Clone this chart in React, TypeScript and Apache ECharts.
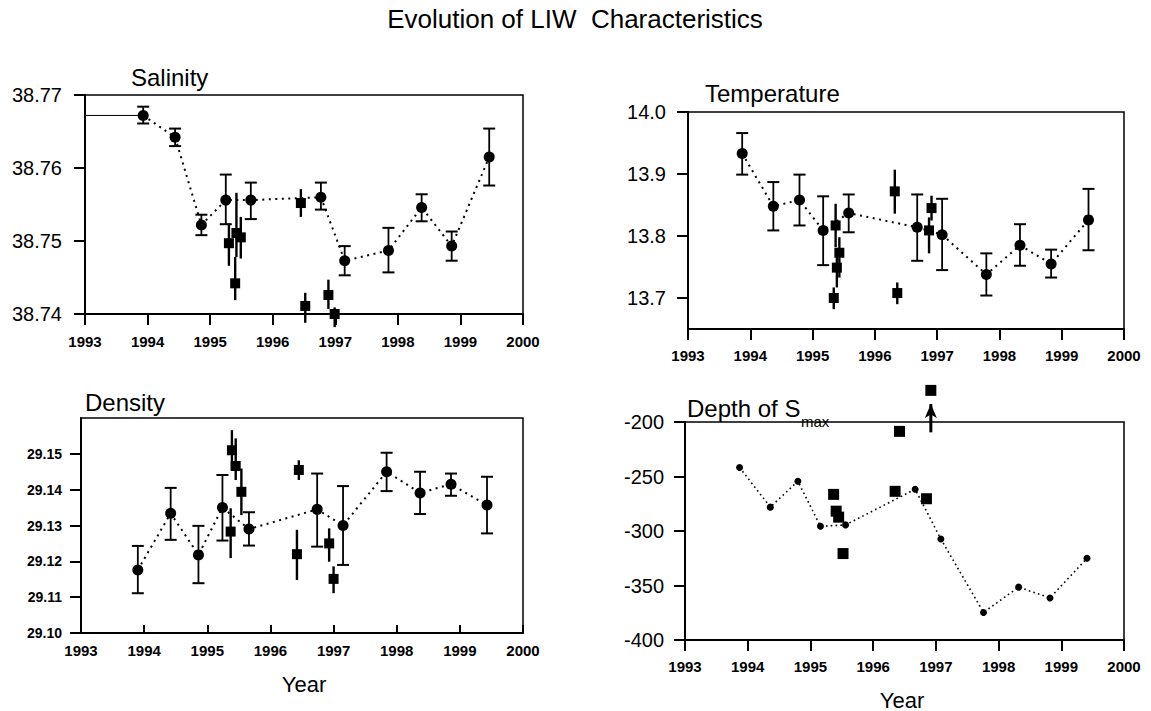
import React, { useEffect, useRef } from 'react';
import * as echarts from 'echarts';

const FONT = '"Liberation Sans", Arial, Helvetica, sans-serif';

// ---------- shared axis ticks ----------
const yearTicks = [1993, 1994, 1995, 1996, 1997, 1998, 1999, 2000];

// ---------- Salinity ----------
const salTicks = [38.74, 38.75, 38.76, 38.77];
const salCircleYears = [1993.93, 1994.44, 1994.86, 1995.25, 1995.65, 1996.77, 1997.15, 1997.85, 1998.38, 1998.86, 1999.46];
const salCircleValues = [38.7672, 38.7642, 38.7522, 38.7556, 38.7556, 38.756, 38.7473, 38.7487, 38.7546, 38.7493, 38.7615];
const salCircleLow = [38.7661, 38.763, 38.7508, 38.7523, 38.753, 38.7543, 38.7453, 38.7457, 38.7527, 38.7473, 38.7576];
const salCircleHigh = [38.7684, 38.7654, 38.7536, 38.7591, 38.758, 38.758, 38.7493, 38.7518, 38.7564, 38.7513, 38.7654];
const salSquareYears = [1995.3, 1995.4, 1995.42, 1995.49, 1996.45, 1996.52, 1996.89, 1996.99];
const salSquareValues = [38.7497, 38.7442, 38.7511, 38.7505, 38.7552, 38.7411, 38.7426, 38.74];
const salSquareLow = [38.7466, 38.7419, 38.7478, 38.7476, 38.7533, 38.7388, 38.7407, 38.7382];
const salSquareHigh = [38.7524, 38.7478, 38.7566, 38.7533, 38.7571, 38.7429, 38.7447, 38.7409];
const salRefYears = [1993, 1993.93];
const salRefValues = [38.7672, 38.7672];

// ---------- Temperature ----------
const tempTicks = [13.7, 13.8, 13.9, 14.0];
const tempCircleYears = [1993.87, 1994.37, 1994.79, 1995.17, 1995.58, 1996.68, 1997.08, 1997.79, 1998.33, 1998.83, 1999.43];
const tempCircleValues = [13.933, 13.848, 13.858, 13.809, 13.837, 13.814, 13.802, 13.738, 13.785, 13.755, 13.826];
const tempCircleLow = [13.899, 13.809, 13.817, 13.753, 13.806, 13.76, 13.745, 13.704, 13.752, 13.733, 13.777];
const tempCircleHigh = [13.966, 13.887, 13.899, 13.864, 13.867, 13.867, 13.86, 13.772, 13.819, 13.778, 13.876];
const tempSquareYears = [1995.34, 1995.37, 1995.39, 1995.43, 1996.32, 1996.36, 1996.87, 1996.91];
const tempSquareValues = [13.7, 13.817, 13.749, 13.773, 13.872, 13.708, 13.809, 13.845];
const tempSquareLow = [13.682, 13.782, 13.717, 13.733, 13.836, 13.69, 13.772, 13.825];
const tempSquareHigh = [13.717, 13.852, 13.777, 13.798, 13.907, 13.725, 13.83, 13.865];

// ---------- Density ----------
const denTicks = [29.1, 29.11, 29.12, 29.13, 29.14, 29.15];
const denCircleYears = [1993.9, 1994.42, 1994.86, 1995.24, 1995.66, 1996.74, 1997.15, 1997.84, 1998.37, 1998.86, 1999.43];
const denCircleValues = [29.1176, 29.1334, 29.1218, 29.135, 29.129, 29.1345, 29.13, 29.145, 29.1391, 29.1415, 29.1357];
const denCircleLow = [29.1111, 29.126, 29.1139, 29.1258, 29.1244, 29.1241, 29.119, 29.1396, 29.1332, 29.1383, 29.1278];
const denCircleHigh = [29.1243, 29.1405, 29.1299, 29.1441, 29.1337, 29.1445, 29.141, 29.1503, 29.145, 29.1445, 29.1436];
const denSquareYears = [1995.39, 1995.37, 1995.45, 1995.54, 1996.45, 1996.42, 1996.93, 1997.0];
const denSquareValues = [29.151, 29.1283, 29.1466, 29.1394, 29.1455, 29.122, 29.125, 29.1151];
const denSquareLow = [29.1455, 29.1209, 29.1427, 29.1329, 29.1427, 29.1148, 29.1199, 29.1111];
const denSquareHigh = [29.1566, 29.1348, 29.1543, 29.1459, 29.1482, 29.1288, 29.1292, 29.1186];

// ---------- Depth of Smax ----------
const depTicks = [-400, -350, -300, -250, -200];
const depCircleYears = [1993.87, 1994.36, 1994.8, 1995.16, 1995.56, 1996.67, 1997.08, 1997.76, 1998.32, 1998.82, 1999.41];
const depCircleValues = [-241.7, -278.1, -254.3, -295.7, -294.4, -261.7, -307.4, -374.7, -351.5, -361.4, -325.0];
const depSquareYears = [1995.37, 1995.41, 1995.45, 1995.52, 1996.35, 1996.42, 1996.85, 1996.92];
const depSquareValues = [-266.4, -281.8, -287.3, -320.7, -263.6, -208.6, -270.4, -171.0];
const depArrowYears = [1996.92, 1996.92];
const depArrowValues = [-209.5, -183.5];

const zip = (xs: number[], ys: number[]) => xs.map((x, i) => [x, ys[i]]);
const zip3 = (xs: number[], lo: number[], hi: number[]) => xs.map((x, i) => [x, lo[i], hi[i]]);

function errorRender(capHalf: number, width: number) {
  return (_params: any, api: any) => {
    const x = api.value(0);
    const p1 = api.coord([x, api.value(1)]);
    const p2 = api.coord([x, api.value(2)]);
    const st = { stroke: '#000', lineWidth: width };
    const children: any[] = [
      { type: 'line', shape: { x1: p1[0], y1: p1[1], x2: p2[0], y2: p2[1] }, style: st },
    ];
    if (capHalf > 0) {
      const cs = { stroke: '#000', lineWidth: 2 };
      children.push({ type: 'line', shape: { x1: p1[0] - capHalf, y1: p1[1], x2: p1[0] + capHalf, y2: p1[1] }, style: cs });
      children.push({ type: 'line', shape: { x1: p2[0] - capHalf, y1: p2[1], x2: p2[0] + capHalf, y2: p2[1] }, style: cs });
    }
    return { type: 'group', children };
  };
}

interface XCfg { inside: boolean; margin: number }
function makeXAxis(gridIndex: number, c: XCfg) {
  return {
    type: 'value', gridIndex, min: 1993, max: 2000,
    axisLine: { show: true, onZero: false, lineStyle: { color: '#000', width: 2 } },
    axisTick: { show: true, inside: c.inside, length: c.inside ? 8 : 11, customValues: yearTicks, lineStyle: { color: '#000', width: 2 } },
    axisLabel: { margin: c.margin, fontSize: 15, fontWeight: 'bold', color: '#000', fontFamily: FONT, customValues: yearTicks, formatter: (v: number) => String(Math.round(v)) },
    splitLine: { show: false },
  };
}
function makeYAxis(gridIndex: number, min: number, max: number, ticks: number[], digits: number, fontSize: number, bold: boolean, margin: number) {
  return {
    type: 'value', gridIndex, min, max,
    axisLine: { show: true, onZero: false, lineStyle: { color: '#000', width: 2 } },
    axisTick: { show: true, length: 11, customValues: ticks, lineStyle: { color: '#000', width: 2 } },
    axisLabel: { margin, fontSize, fontWeight: bold ? 'bold' : 'normal', color: '#000', fontFamily: FONT, customValues: ticks, formatter: (v: number) => v.toFixed(digits) },
    splitLine: { show: false },
  };
}

function panelSeries(i: number, cy: number[], cv: number[], sy: number[], sv: number[], cLow: number[] | null, cHigh: number[] | null, sLow: number[] | null, sHigh: number[] | null, small: boolean) {
  const s: any[] = [];
  s.push({
    type: 'line', xAxisIndex: i, yAxisIndex: i, data: zip(cy, cv), showSymbol: false, symbol: 'none',
    lineStyle: { color: '#000', width: small ? 1.6 : 2, type: small ? [1.6, 3.2] : [2, 4.5] }, z: 2, silent: true,
  });
  if (cLow && cHigh) {
    s.push({ type: 'custom', xAxisIndex: i, yAxisIndex: i, data: zip3(cy, cLow, cHigh), renderItem: errorRender(6, 1.8), encode: { x: 0, y: [1, 2] }, z: 3, clip: false });
  }
  if (sLow && sHigh) {
    s.push({ type: 'custom', xAxisIndex: i, yAxisIndex: i, data: zip3(sy, sLow, sHigh), renderItem: errorRender(0, 2.4), encode: { x: 0, y: [1, 2] }, z: 3, clip: false });
  }
  s.push({ type: 'scatter', xAxisIndex: i, yAxisIndex: i, data: zip(cy, cv), symbol: 'circle', symbolSize: small ? 7 : 11, itemStyle: { color: '#000', opacity: 1 }, z: 4, clip: false });
  s.push({ type: 'scatter', xAxisIndex: i, yAxisIndex: i, data: zip(sy, sv), symbol: 'rect', symbolSize: small ? 11 : 10, itemStyle: { color: '#000', opacity: 1 }, z: 4, clip: false });
  return s;
}

const txt = (text: string, x: number, y: number, fontSize: number, align: string = 'left') => ({
  type: 'text', x, y, silent: true,
  style: { text, fontSize, fontFamily: FONT, fill: '#000', textAlign: align, textVerticalAlign: 'middle' },
});

export default function App() {
  const ref = useRef<HTMLDivElement>(null);
  useEffect(() => {
    if (!ref.current) return;
    const chart = echarts.init(ref.current, undefined, { renderer: 'svg' });
    const gridBase = { show: true, borderColor: '#000', borderWidth: 1.5, backgroundColor: 'transparent', containLabel: false };
    const series: any[] = [
      ...panelSeries(0, salCircleYears, salCircleValues, salSquareYears, salSquareValues, salCircleLow, salCircleHigh, salSquareLow, salSquareHigh, false),
      {
        type: 'line', xAxisIndex: 0, yAxisIndex: 0, data: zip(salRefYears, salRefValues), symbol: 'none', showSymbol: false,
        lineStyle: { color: '#000', width: 1 }, z: 1, silent: true,
      },
      ...panelSeries(1, tempCircleYears, tempCircleValues, tempSquareYears, tempSquareValues, tempCircleLow, tempCircleHigh, tempSquareLow, tempSquareHigh, false),
      ...panelSeries(2, denCircleYears, denCircleValues, denSquareYears, denSquareValues, denCircleLow, denCircleHigh, denSquareLow, denSquareHigh, false),
      ...panelSeries(3, depCircleYears, depCircleValues, depSquareYears, depSquareValues, null, null, null, null, true),
      {
        type: 'line', xAxisIndex: 3, yAxisIndex: 3, clip: false, silent: true, z: 5,
        data: [
          { value: [depArrowYears[0], depArrowValues[0]], symbol: 'none' },
          { value: [depArrowYears[1], depArrowValues[1]], symbol: 'arrow', symbolSize: [9, 14] },
        ],
        lineStyle: { color: '#000', width: 3 }, itemStyle: { color: '#000', opacity: 1 },
      },
    ];
    chart.setOption({
      animation: false,
      backgroundColor: '#fff',
      grid: [
        { ...gridBase, left: 85, top: 95, width: 438, height: 219 },
        { ...gridBase, left: 688, top: 112, width: 436, height: 217 },
        { ...gridBase, left: 81, top: 418, width: 442, height: 215 },
        { ...gridBase, left: 685, top: 422, width: 439, height: 218 },
      ],
      xAxis: [
        makeXAxis(0, { inside: false, margin: 20 }),
        makeXAxis(1, { inside: false, margin: 19 }),
        makeXAxis(2, { inside: true, margin: 10 }),
        makeXAxis(3, { inside: false, margin: 19 }),
      ],
      yAxis: [
        makeYAxis(0, 38.74, 38.77, salTicks, 2, 20, false, 23),
        makeYAxis(1, 13.65, 14.0, tempTicks, 1, 20, false, 22),
        makeYAxis(2, 29.1, 29.16, denTicks, 2, 14, true, 19),
        makeYAxis(3, -400, -200, depTicks, 0, 20, false, 21),
      ],
      series,
      graphic: [
        txt('Evolution of LIW  Characteristics', 575, 19, 26, 'center'),
        txt('Salinity', 131, 77, 24),
        txt('Temperature', 705, 93, 24),
        txt('Density', 85, 402, 24),
        txt('Depth of S', 687, 408, 24),
        txt('max', 801, 421, 15),
        txt('Year', 304, 684, 22, 'center'),
        txt('Year', 902, 700, 22, 'center'),
      ],
    });
    return () => chart.dispose();
  }, []);
  return <div ref={ref} style={{ position: 'fixed', left: 0, top: 0, width: 1151, height: 711, background: '#fff' }} />;
}
